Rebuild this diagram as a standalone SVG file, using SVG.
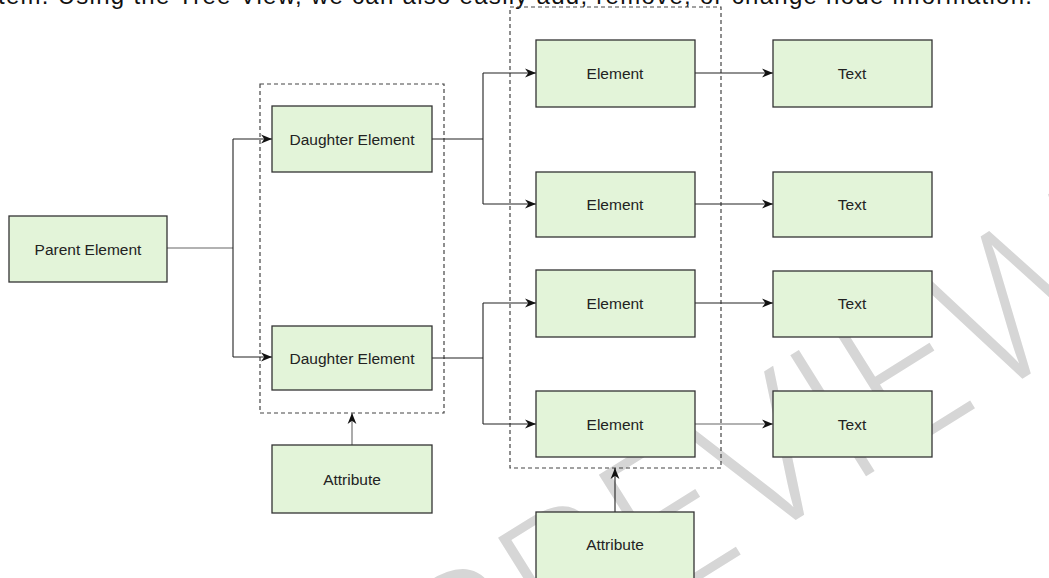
<svg xmlns="http://www.w3.org/2000/svg" width="1049" height="578" viewBox="0 0 1049 578">
  <style>
    .node rect { fill: #e3f4d9; stroke: #333; stroke-width: 1.3; }
    .node text { font-family: "Liberation Sans", Arial, sans-serif; font-size: 15.5px; fill: #222; text-anchor: middle; dominant-baseline: central; }
    .group { fill: none; stroke: #444; stroke-width: 1.2; stroke-dasharray: 4 3; }
    .conn { fill: none; stroke: #222; stroke-width: 1.1; }
    .conn.gray { stroke: #666; }
    .arrow { marker-end: url(#arr); }
    .caption { font-family: "Liberation Sans", Arial, sans-serif; font-size: 24px; fill: #111; }
    .wm { font-family: "Open Sans", "Lato", "Liberation Sans", sans-serif; font-weight: 300; font-size: 200px; fill: #d6d6d6; }
  </style>
  <defs>
    <marker id="arr" viewBox="0 0 10 10" refX="10" refY="5" markerWidth="11" markerHeight="11" markerUnits="userSpaceOnUse" orient="auto">
      <path d="M0,1 L10,5 L0,9 L3,5 z" fill="#111"/>
    </marker>
  </defs>

  <rect width="1049" height="578" fill="#fff"/>

  <text class="caption" x="-2" y="4" textLength="1034" lengthAdjust="spacing">tem. Using the Tree View, we can also easily add, remove, or change node information.</text>

  <g id="watermark">
    <text class="wm" x="760" y="530" text-anchor="middle" transform="rotate(-32 760 460)">PREVIEW</text>
  </g>

  <rect id="group-daughters" class="group" x="260" y="84" width="184" height="329"/>
  <rect id="group-elements" class="group" x="510" y="7" width="211" height="461"/>

  <g id="connectors">
    <path class="conn gray" d="M167,248 H233"/>
    <path class="conn" d="M233,139 V357"/>
    <path class="conn arrow" d="M233,139 H272"/>
    <path class="conn arrow" d="M233,357 H272"/>

    <path class="conn" d="M432,139 H483 M483,73 V204"/>
    <path class="conn arrow" d="M483,73 H536"/>
    <path class="conn arrow" d="M483,204 H536"/>

    <path class="conn" d="M432,358 H483 M483,303 V424"/>
    <path class="conn arrow" d="M483,303 H536"/>
    <path class="conn arrow" d="M483,424 H536"/>

    <path class="conn arrow" d="M695,73 H773"/>
    <path class="conn arrow" d="M695,204 H773"/>
    <path class="conn arrow" d="M695,303 H773"/>
    <path class="conn arrow gray" d="M695,424 H773"/>

    <path class="conn arrow gray" d="M352,445 V413"/>
    <path class="conn arrow" d="M615,512 V468"/>
  </g>

  <g id="parent" class="node"><rect x="9" y="216" width="158" height="66"/><text x="88" y="249">Parent Element</text></g>
  <g id="daughter1" class="node"><rect x="272" y="106" width="160" height="66"/><text x="352" y="139">Daughter Element</text></g>
  <g id="daughter2" class="node"><rect x="272" y="326" width="160" height="64"/><text x="352" y="358">Daughter Element</text></g>
  <g id="attribute1" class="node"><rect x="272" y="445" width="160" height="68"/><text x="352" y="479">Attribute</text></g>

  <g id="element1" class="node"><rect x="536" y="40" width="159" height="67"/><text x="615" y="73">Element</text></g>
  <g id="element2" class="node"><rect x="536" y="172" width="159" height="65"/><text x="615" y="204">Element</text></g>
  <g id="element3" class="node"><rect x="536" y="270" width="159" height="67"/><text x="615" y="303">Element</text></g>
  <g id="element4" class="node"><rect x="536" y="391" width="159" height="66"/><text x="615" y="424">Element</text></g>
  <g id="attribute2" class="node"><rect x="536" y="512" width="158" height="80"/><text x="615" y="544">Attribute</text></g>

  <g id="text1" class="node"><rect x="773" y="40" width="159" height="67"/><text x="852" y="73">Text</text></g>
  <g id="text2" class="node"><rect x="773" y="172" width="159" height="65"/><text x="852" y="204">Text</text></g>
  <g id="text3" class="node"><rect x="773" y="271" width="159" height="66"/><text x="852" y="303">Text</text></g>
  <g id="text4" class="node"><rect x="773" y="391" width="159" height="66"/><text x="852" y="424">Text</text></g>
</svg>
